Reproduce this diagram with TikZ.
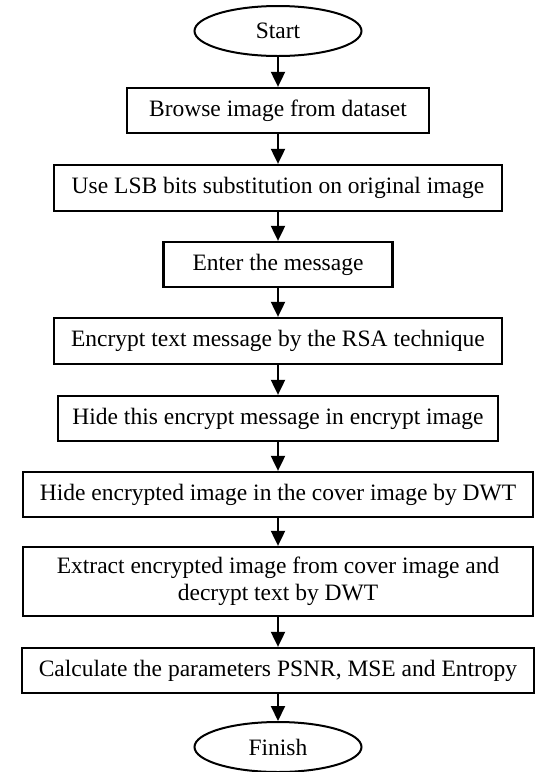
\documentclass[tikz,border=0pt]{standalone}
\usepackage{fontspec}
\setmainfont{Liberation Serif}
\usetikzlibrary{shapes.geometric,arrows.meta}

\tikzset{
  stepbox/.style={draw=black, line width=2.3pt, rectangle, inner sep=0pt,
    minimum height=45pt, align=center,
    font=\fontsize{23.5pt}{27pt}\selectfont},
  terminal/.style={draw=black, line width=2pt, ellipse, inner sep=0pt,
    minimum width=167pt, minimum height=50pt,
    font=\fontsize{23.5pt}{27pt}\selectfont},
  flow/.style={line width=2pt, -{Triangle[length=15pt,width=14pt]}}
}

\begin{document}
\begin{tikzpicture}[x=1pt, y=-1pt]
  \useasboundingbox (0,0) rectangle (547,772);

  \node[terminal] (start) at (278,31) {Start};
  \node[stepbox, minimum width=302pt] (browse) at (278,110.5) {Browse image from dataset};
  \node[stepbox, minimum width=448pt, minimum height=46pt] (lsb) at (278,188) {Use LSB bits substitution on original image};
  \node[stepbox, minimum width=229pt] (enter) at (278,264.5) {Enter the message};
  \node[stepbox, minimum width=448pt, minimum height=46pt] (rsa) at (278,341) {Encrypt text message by the RSA technique};
  \node[stepbox, minimum width=440pt] (hidemsg) at (278,418.5) {Hide this encrypt message in encrypt image};
  \node[stepbox, minimum width=510pt] (hideimg) at (278,494.5) {Hide encrypted image in the cover image by DWT};
  \node[stepbox, minimum width=510pt, minimum height=69pt] (extract) at (278,581.5)
    {Extract encrypted image from cover image and\\decrypt text by DWT};
  \node[stepbox, minimum width=512pt] (calc) at (278,670.5) {Calculate the parameters PSNR, MSE and Entropy};
  \node[terminal] (finish) at (278,747) {Finish};

  \draw[flow] (start) -- (browse);
  \draw[flow] (browse) -- (lsb);
  \draw[flow] (lsb) -- (enter);
  \draw[flow] (enter) -- (rsa);
  \draw[flow] (rsa) -- (hidemsg);
  \draw[flow] (hidemsg) -- (hideimg);
  \draw[flow] (hideimg) -- (extract);
  \draw[flow] (extract) -- (calc);
  \draw[flow] (calc) -- (finish);
\end{tikzpicture}
\end{document}
